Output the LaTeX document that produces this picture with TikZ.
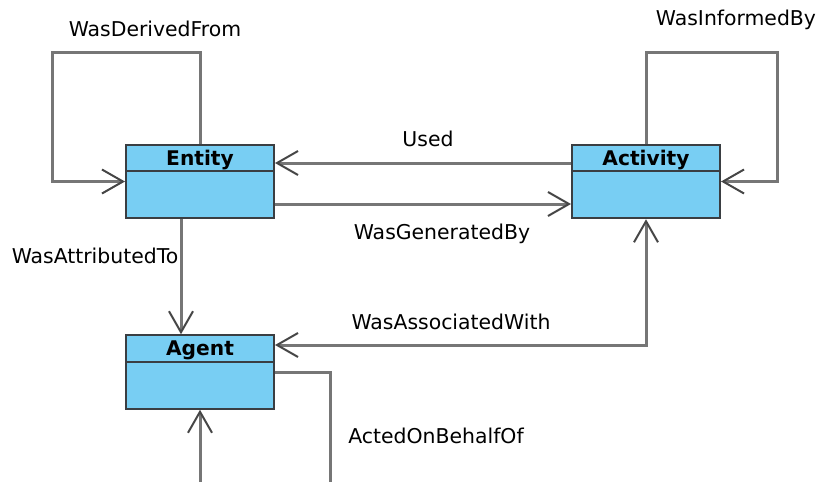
\documentclass[tikz,border=0pt]{standalone}
\usepackage{fontspec}
\setmainfont{DejaVu Sans}
\usetikzlibrary{arrows.meta,positioning}
\definecolor{classfill}{RGB}{120,206,243}
\definecolor{classline}{RGB}{58,62,66}
\definecolor{linkgray}{RGB}{118,118,118}
\definecolor{tipgray}{RGB}{70,70,70}

\begin{document}
\begin{tikzpicture}[
  x=0.5pt,y=-0.5pt,
  >={Straight Barb[length=10.5pt,width=12pt,line width=1pt,color=tipgray]},
  cls/.style={draw=classline,line width=1pt,fill=classfill,minimum width=74pt,minimum height=36.75pt,inner sep=0pt},
  hdr/.style={draw=classline,line width=1pt,minimum width=74pt,minimum height=13.25pt,inner sep=0pt,text depth=0pt,anchor=north,font=\fontsize{10.1}{12}\selectfont\bfseries},
  link/.style={draw=linkgray,line width=1.5pt},
  lbl/.style={font=\fontsize{10.2}{12}\selectfont,inner sep=0pt}
]
\useasboundingbox (0,0) rectangle (816,482);
\clip (0,0) rectangle (816,482);
% classes
\node[cls] (entity) at (200,181.5) {};
\node[hdr] (entityhd) at (entity.north) {Entity};
\node[cls] (activity) at (646,181.5) {};
\node[hdr] (activityhd) at (activity.north) {Activity};
\node[cls] (agent) at (200,372) {};
\node[hdr] (agenthd) at (agent.north) {Agent};
% loop corners
\coordinate (derived) at (52,52);
\coordinate (informed) at (777,52);
\coordinate (behalf) at (330,520);
% relations
\draw[link,->] (entity.north) |- (derived) |- (entity.west);
\draw[link,->] (activity.north) |- (informed) |- (activity.east);
\draw[link,->] ([yshift=9.25pt]activity.west) -- ([yshift=9.25pt]entity.east);
\draw[link,->] ([yshift=-11.25pt]entity.east) -- ([yshift=-11.25pt]activity.west);
\draw[link,->] ([xshift=-9.5pt]entity.south) -- ([xshift=-9.5pt]agent.north);
\draw[link,<->] (activity.south) |- ([yshift=13.5pt]agent.east);
\draw[link,->] (agent.east) -| (behalf) -| (agent.south);
% labels
\node[lbl] (derivedlbl) at (155,29) {WasDerivedFrom};
\node[lbl] (informedlbl) at (736,20) {WasInformedBy};
\node[lbl] (usedlbl) at (428,139) {Used};
\node[lbl] (generatedlbl) at (442,234) {WasGeneratedBy};
\node[lbl] (attributedlbl) at (95,256) {WasAttributedTo};
\node[lbl] (associatedlbl) at (451,322) {WasAssociatedWith};
\node[lbl] (behalflbl) at (436,436) {ActedOnBehalfOf};
\end{tikzpicture}
\end{document}
